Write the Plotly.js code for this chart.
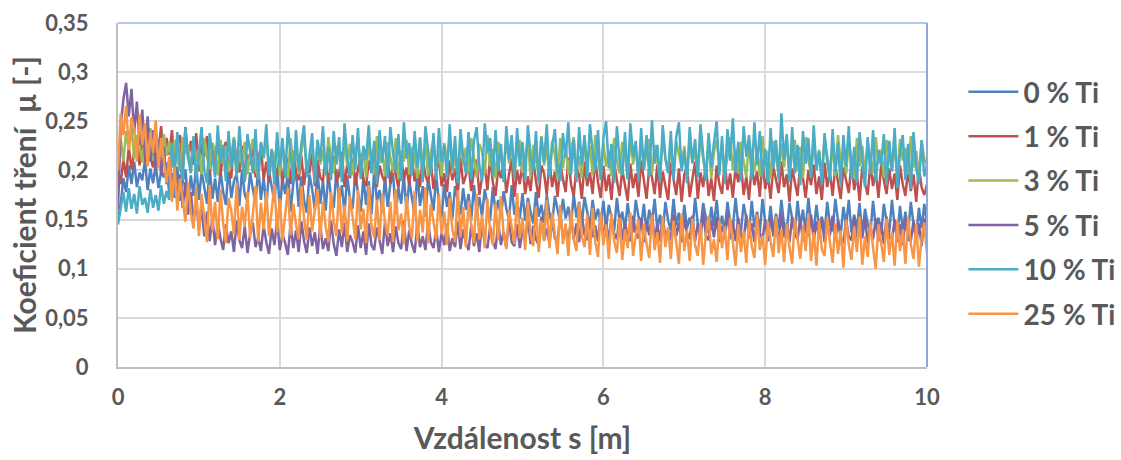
<!DOCTYPE html>
<html>
<head>
<meta charset="utf-8">
<script src="https://cdn.plot.ly/plotly-3.0.1.min.js"></script>
<style>html,body{margin:0;padding:0;background:#fff;}#chart{width:1121px;height:460px;}</style>
</head>
<body>
<div id="chart"></div>
<script>
// distance step between samples [m]
const STEP = 1 / 30;
const seriesNames = ["0 % Ti", "1 % Ti", "3 % Ti", "5 % Ti", "10 % Ti", "25 % Ti"];
const seriesColors = ["#4F81BD", "#C0504D", "#9BBB59", "#8064A2", "#4BACC6", "#F79646"];

const ti0 = [0.150,0.166,0.192,0.178,0.205,0.186,0.209,0.183,0.198,0.190,
0.211,0.180,0.202,0.187,0.206,0.182,0.199,0.193,0.208,0.176,
0.197,0.172,0.204,0.169,0.188,0.201,0.167,0.195,0.174,0.206,
0.170,0.199,0.183,0.166,0.203,0.171,0.192,0.168,0.200,0.178,
0.165,0.204,0.172,0.189,0.197,0.164,0.201,0.175,0.169,0.198,
0.181,0.166,0.205,0.170,0.193,0.163,0.199,0.185,0.168,0.202,
0.161,0.191,0.176,0.198,0.158,0.187,0.200,0.163,0.194,0.170,
0.157,0.196,0.181,0.160,0.199,0.166,0.190,0.159,0.197,0.173,
0.162,0.201,0.168,0.185,0.156,0.195,0.171,0.161,0.198,0.177,
0.158,0.193,0.165,0.189,0.155,0.200,0.169,0.180,0.157,0.194,
0.163,0.186,0.197,0.156,0.182,0.166,0.195,0.158,0.190,0.172,
0.155,0.198,0.164,0.184,0.153,0.192,0.175,0.159,0.196,0.167,
0.152,0.186,0.163,0.178,0.151,0.184,0.170,0.155,0.182,0.160,
0.176,0.150,0.185,0.158,0.173,0.153,0.181,0.166,0.149,0.183,
0.157,0.170,0.152,0.179,0.161,0.150,0.185,0.155,0.168,0.151,
0.177,0.149,0.172,0.158,0.146,0.178,0.153,0.165,0.147,0.175,
0.156,0.145,0.174,0.160,0.148,0.171,0.151,0.163,0.144,0.176,
0.152,0.168,0.146,0.173,0.157,0.143,0.170,0.150,0.161,0.145,
0.169,0.141,0.165,0.152,0.139,0.172,0.148,0.158,0.140,0.167,
0.146,0.137,0.170,0.153,0.142,0.166,0.138,0.160,0.147,0.171,
0.140,0.155,0.136,0.168,0.149,0.139,0.171,0.144,0.157,0.137,
0.165,0.141,0.152,0.138,0.172,0.146,0.140,0.167,0.150,0.136,
0.163,0.143,0.170,0.139,0.154,0.137,0.168,0.148,0.141,0.172,
0.145,0.138,0.166,0.151,0.136,0.169,0.142,0.158,0.137,0.171,
0.147,0.139,0.164,0.136,0.156,0.141,0.170,0.144,0.138,0.167,
0.150,0.135,0.169,0.143,0.160,0.137,0.172,0.146,0.139,0.165,
0.141,0.153,0.136,0.168,0.145,0.138,0.171,0.149,0.135,0.163,
0.144,0.170,0.137,0.155,0.140,0.167,0.134,0.161,0.146,0.136,
0.169,0.142,0.152,0.135,0.166,0.148,0.137,0.170,0.143,0.134,
0.164,0.139,0.158,0.136,0.168,0.145,0.133,0.162,0.141,0.166,
0.145];

const ti1 = [0.200,0.186,0.212,0.193,0.224,0.201,0.219,0.228,0.205,0.237,
0.209,0.242,0.214,0.203,0.239,0.221,0.245,0.207,0.233,0.216,
0.241,0.204,0.226,0.236,0.202,0.244,0.213,0.230,0.206,0.238,
0.199,0.227,0.214,0.235,0.196,0.222,0.208,0.233,0.194,0.219,
0.229,0.201,0.192,0.231,0.211,0.198,0.225,0.190,0.216,0.206,
0.228,0.193,0.212,0.224,0.191,0.209,0.188,0.221,0.203,0.195,
0.217,0.187,0.206,0.213,0.186,0.220,0.199,0.190,0.215,0.185,
0.208,0.197,0.218,0.184,0.211,0.193,0.189,0.216,0.186,0.204,
0.214,0.188,0.196,0.219,0.183,0.207,0.192,0.212,0.185,0.201,
0.217,0.190,0.184,0.210,0.198,0.215,0.183,0.205,0.194,0.188,
0.213,0.186,0.208,0.196,0.182,0.216,0.191,0.203,0.185,0.211,
0.189,0.206,0.183,0.214,0.195,0.187,0.209,0.181,0.200,0.212,
0.184,0.197,0.178,0.210,0.190,0.202,0.176,0.213,0.186,0.195,
0.207,0.179,0.199,0.211,0.175,0.193,0.205,0.180,0.214,0.188,
0.174,0.203,0.192,0.209,0.177,0.196,0.212,0.173,0.200,0.186,
0.208,0.176,0.194,0.179,0.211,0.189,0.172,0.205,0.197,0.175,
0.210,0.183,0.199,0.173,0.207,0.191,0.178,0.213,0.186,0.174,
0.203,0.195,0.171,0.209,0.184,0.198,0.176,0.212,0.188,0.172,
0.205,0.179,0.196,0.170,0.208,0.190,0.174,0.201,0.185,0.169,
0.207,0.182,0.197,0.173,0.210,0.188,0.171,0.203,0.193,0.176,
0.206,0.172,0.199,0.184,0.170,0.208,0.191,0.175,0.202,0.168,
0.196,0.204,0.173,0.189,0.209,0.171,0.198,0.183,0.207,0.174,
0.192,0.169,0.205,0.186,0.176,0.210,0.180,0.197,0.172,0.203,
0.188,0.208,0.175,0.194,0.170,0.206,0.185,0.199,0.173,0.211,
0.181,0.195,0.171,0.204,0.189,0.177,0.209,0.183,0.196,0.168,
0.202,0.186,0.174,0.207,0.192,0.172,0.200,0.185,0.206,0.176,
0.194,0.170,0.208,0.183,0.198,0.174,0.205,0.188,0.171,0.203,
0.191,0.177,0.209,0.180,0.196,0.169,0.204,0.187,0.175,0.207,
0.184,0.199,0.172,0.206,0.190,0.176,0.202,0.181,0.197,0.170,
0.205,0.186,0.174,0.201,0.179,0.196,0.168,0.203,0.183,0.175,
0.186];

const ti3 = [0.215,0.232,0.209,0.240,0.221,0.244,0.212,0.236,0.226,0.208,
0.239,0.218,0.243,0.210,0.233,0.224,0.206,0.237,0.215,0.229,
0.203,0.231,0.212,0.199,0.234,0.217,0.226,0.197,0.230,0.209,
0.222,0.196,0.233,0.214,0.201,0.228,0.219,0.195,0.231,0.207,
0.225,0.198,0.216,0.234,0.194,0.221,0.205,0.229,0.196,0.218,
0.232,0.201,0.193,0.227,0.212,0.235,0.197,0.220,0.208,0.230,
0.195,0.224,0.213,0.192,0.233,0.203,0.226,0.196,0.219,0.236,
0.199,0.214,0.228,0.193,0.231,0.206,0.221,0.194,0.234,0.210,
0.197,0.225,0.216,0.192,0.232,0.204,0.227,0.195,0.218,0.233,
0.200,0.223,0.193,0.230,0.211,0.196,0.235,0.207,0.222,0.194,
0.229,0.214,0.198,0.233,0.191,0.220,0.209,0.231,0.196,0.224,
0.213,0.192,0.234,0.203,0.226,0.195,0.218,0.232,0.199,0.221,
0.194,0.228,0.210,0.235,0.197,0.216,0.191,0.230,0.206,0.223,
0.198,0.233,0.212,0.193,0.227,0.219,0.196,0.236,0.204,0.222,
0.192,0.229,0.214,0.199,0.234,0.207,0.225,0.195,0.220,0.231,
0.197,0.213,0.232,0.193,0.226,0.210,0.198,0.235,0.205,0.224,
0.194,0.230,0.216,0.191,0.233,0.202,0.227,0.196,0.221,0.234,
0.199,0.215,0.192,0.231,0.208,0.225,0.195,0.236,0.211,0.193,
0.228,0.204,0.220,0.194,0.233,0.210,0.197,0.229,0.215,0.191,
0.235,0.206,0.223,0.195,0.231,0.201,0.218,0.232,0.196,0.226,
0.209,0.193,0.234,0.212,0.198,0.227,0.191,0.230,0.216,0.203,
0.225,0.194,0.233,0.207,0.221,0.196,0.236,0.211,0.199,0.228,
0.192,0.219,0.231,0.205,0.226,0.195,0.214,0.234,0.200,0.222,
0.197,0.229,0.209,0.193,0.232,0.217,0.198,0.224,0.194,0.235,
0.206,0.220,0.191,0.230,0.213,0.196,0.227,0.203,0.233,0.195,
0.218,0.231,0.199,0.224,0.192,0.234,0.210,0.197,0.228,0.205,
0.221,0.193,0.232,0.215,0.198,0.226,0.194,0.236,0.208,0.219,
0.196,0.230,0.211,0.192,0.233,0.204,0.225,0.195,0.229,0.213,
0.197,0.234,0.207,0.221,0.193,0.231,0.216,0.199,0.227,0.194,
0.232,0.210,0.223,0.196,0.235,0.203,0.220,0.192,0.230,0.212,
0.205];

const ti5 = [0.160,0.245,0.272,0.289,0.255,0.283,0.238,0.270,0.226,0.262,
0.214,0.255,0.209,0.241,0.201,0.232,0.195,0.224,0.186,0.212,
0.178,0.205,0.170,0.196,0.162,0.188,0.155,0.178,0.148,0.169,
0.140,0.163,0.133,0.158,0.128,0.152,0.124,0.147,0.131,0.119,
0.145,0.126,0.138,0.117,0.149,0.129,0.121,0.143,0.116,0.136,
0.147,0.122,0.132,0.118,0.144,0.127,0.115,0.141,0.124,0.150,
0.119,0.135,0.126,0.114,0.146,0.121,0.139,0.117,0.148,0.128,
0.116,0.142,0.123,0.137,0.115,0.145,0.120,0.131,0.118,0.149,
0.125,0.113,0.140,0.122,0.147,0.117,0.134,0.127,0.116,0.144,
0.121,0.138,0.114,0.146,0.124,0.119,0.142,0.128,0.115,0.148,
0.123,0.136,0.117,0.143,0.126,0.120,0.149,0.118,0.139,0.125,
0.116,0.145,0.122,0.133,0.119,0.147,0.127,0.121,0.141,0.117,
0.137,0.124,0.146,0.118,0.131,0.122,0.148,0.120,0.140,0.126,
0.119,0.144,0.123,0.136,0.117,0.149,0.125,0.121,0.143,0.128,
0.120,0.147,0.124,0.138,0.122,0.150,0.127,0.123,0.145,0.121,
0.139,0.128,0.152,0.125,0.144,0.130,0.124,0.153,0.129,0.141,
0.126,0.150,0.131,0.127,0.155,0.133,0.142,0.128,0.151,0.130,
0.146,0.127,0.154,0.135,0.129,0.152,0.132,0.144,0.128,0.156,
0.131,0.149,0.127,0.153,0.136,0.130,0.155,0.129,0.147,0.133,
0.128,0.154,0.137,0.131,0.152,0.127,0.148,0.134,0.156,0.130,
0.145,0.128,0.153,0.132,0.139,0.129,0.155,0.133,0.147,0.127,
0.151,0.136,0.130,0.154,0.128,0.146,0.131,0.157,0.134,0.129,
0.149,0.132,0.153,0.127,0.143,0.135,0.156,0.130,0.148,0.128,
0.152,0.134,0.129,0.155,0.131,0.146,0.127,0.153,0.136,0.130,
0.150,0.128,0.154,0.133,0.141,0.129,0.156,0.132,0.147,0.127,
0.153,0.135,0.130,0.151,0.128,0.145,0.133,0.155,0.129,0.148,
0.131,0.152,0.127,0.144,0.134,0.154,0.128,0.149,0.132,0.126,
0.150,0.133,0.129,0.153,0.127,0.146,0.131,0.152,0.126,0.143,
0.130,0.151,0.128,0.147,0.125,0.153,0.132,0.129,0.150,0.127,
0.145,0.124,0.152,0.130,0.128,0.149,0.126,0.146,0.123,0.151,
0.140];

const ti10 = [0.145,0.163,0.178,0.158,0.182,0.161,0.176,0.156,0.184,0.165,
0.172,0.157,0.181,0.162,0.175,0.159,0.185,0.166,0.179,0.170,
0.228,0.196,0.239,0.205,0.190,0.243,0.212,0.198,0.235,0.191,
0.221,0.244,0.200,0.187,0.238,0.215,0.193,0.246,0.207,0.226,
0.189,0.240,0.203,0.232,0.194,0.245,0.210,0.188,0.237,0.219,
0.197,0.242,0.190,0.229,0.213,0.247,0.195,0.222,0.186,0.239,
0.204,0.233,0.192,0.244,0.216,0.189,0.241,0.200,0.227,0.246,
0.193,0.218,0.238,0.187,0.231,0.209,0.245,0.196,0.224,0.190,
0.240,0.206,0.234,0.188,0.248,0.214,0.194,0.236,0.201,0.243,
0.191,0.225,0.211,0.246,0.197,0.230,0.186,0.241,0.208,0.235,
0.192,0.244,0.217,0.199,0.237,0.189,0.249,0.212,0.228,0.195,
0.240,0.203,0.233,0.188,0.245,0.220,0.196,0.238,0.190,0.243,
0.209,0.226,0.193,0.247,0.201,0.235,0.187,0.242,0.214,0.197,
0.239,0.191,0.230,0.244,0.205,0.189,0.248,0.218,0.233,0.194,
0.241,0.199,0.227,0.188,0.245,0.211,0.236,0.192,0.243,0.204,
0.229,0.190,0.246,0.215,0.198,0.240,0.187,0.234,0.208,0.247,
0.193,0.225,0.242,0.200,0.189,0.238,0.213,0.249,0.196,0.231,
0.188,0.244,0.206,0.236,0.192,0.247,0.219,0.199,0.241,0.190,
0.233,0.250,0.202,0.227,0.187,0.245,0.210,0.195,0.239,0.191,
0.248,0.214,0.230,0.189,0.243,0.201,0.236,0.194,0.251,0.207,
0.226,0.188,0.246,0.212,0.197,0.240,0.190,0.234,0.249,0.199,
0.221,0.187,0.244,0.208,0.232,0.193,0.247,0.216,0.189,0.238,
0.203,0.228,0.250,0.195,0.235,0.186,0.242,0.210,0.253,0.198,
0.229,0.189,0.245,0.214,0.236,0.191,0.249,0.205,0.240,0.193,
0.222,0.187,0.243,0.202,0.231,0.190,0.258,0.211,0.237,0.188,
0.244,0.197,0.226,0.185,0.240,0.207,0.233,0.192,0.246,0.200,
0.219,0.186,0.238,0.209,0.189,0.242,0.198,0.228,0.184,0.236,
0.204,0.245,0.191,0.224,0.187,0.239,0.212,0.183,0.234,0.196,
0.241,0.188,0.221,0.205,0.237,0.185,0.230,0.199,0.243,0.182,
0.218,0.236,0.190,0.227,0.181,0.239,0.203,0.186,0.231,0.194,
0.205];

const ti25 = [0.200,0.258,0.236,0.266,0.221,0.254,0.242,0.209,0.257,0.226,
0.248,0.204,0.239,0.218,0.251,0.202,0.233,0.211,0.187,0.214,
0.168,0.203,0.159,0.192,0.172,0.148,0.188,0.157,0.141,0.183,
0.133,0.176,0.152,0.127,0.185,0.139,0.168,0.130,0.181,0.146,
0.126,0.172,0.159,0.135,0.187,0.129,0.163,0.143,0.178,0.131,
0.155,0.184,0.127,0.167,0.140,0.179,0.133,0.160,0.186,0.137,
0.171,0.128,0.158,0.182,0.134,0.166,0.145,0.130,0.184,0.151,
0.129,0.175,0.138,0.162,0.181,0.131,0.169,0.143,0.127,0.178,
0.149,0.133,0.183,0.136,0.165,0.128,0.174,0.153,0.130,0.180,
0.140,0.161,0.126,0.185,0.144,0.132,0.170,0.129,0.177,0.147,
0.134,0.168,0.127,0.181,0.139,0.156,0.125,0.174,0.143,0.131,
0.179,0.128,0.160,0.137,0.183,0.126,0.166,0.148,0.130,0.176,
0.135,0.158,0.124,0.172,0.140,0.127,0.180,0.132,0.163,0.122,
0.169,0.145,0.126,0.176,0.130,0.155,0.121,0.171,0.138,0.124,
0.166,0.129,0.174,0.135,0.120,0.160,0.142,0.125,0.177,0.131,
0.152,0.119,0.168,0.134,0.123,0.163,0.117,0.149,0.128,0.170,
0.121,0.157,0.136,0.115,0.165,0.125,0.146,0.113,0.160,0.130,
0.118,0.167,0.133,0.122,0.155,0.114,0.162,0.127,0.112,0.158,
0.124,0.145,0.110,0.156,0.128,0.116,0.152,0.109,0.140,0.121,
0.157,0.113,0.133,0.150,0.108,0.146,0.125,0.111,0.155,0.119,
0.137,0.106,0.153,0.122,0.142,0.110,0.149,0.127,0.105,0.156,
0.118,0.139,0.108,0.151,0.124,0.113,0.147,0.104,0.135,0.154,
0.115,0.130,0.107,0.149,0.121,0.143,0.109,0.152,0.126,0.103,
0.145,0.117,0.138,0.106,0.150,0.123,0.111,0.155,0.119,0.134,
0.104,0.148,0.128,0.112,0.153,0.116,0.140,0.107,0.146,0.122,
0.105,0.151,0.131,0.110,0.144,0.118,0.156,0.108,0.137,0.103,
0.149,0.120,0.113,0.152,0.127,0.106,0.146,0.115,0.139,0.101,
0.150,0.124,0.109,0.143,0.117,0.153,0.104,0.133,0.112,0.148,
0.121,0.100,0.145,0.128,0.107,0.151,0.114,0.137,0.103,0.149,
0.118,0.140,0.105,0.152,0.125,0.110,0.146,0.102,0.131,0.147,
0.115];

const yTickVals = [0, 0.05, 0.1, 0.15, 0.2, 0.25, 0.3, 0.35];
const yTickText = ["0", "0,05", "0,1", "0,15", "0,2", "0,25", "0,3", "0,35"];
const xTickVals = [0, 2, 4, 6, 8, 10];

const allSeries = [ti0, ti1, ti3, ti5, ti10, ti25];
const FONT = "Lato, 'Open Sans', sans-serif";
const GREY = "#595959";

const traces = allSeries.map((ys, k) => ({
  type: "scatter",
  mode: "lines",
  name: seriesNames[k],
  legendgroup: "g" + k,
  x0: 0,
  dx: STEP,
  y: ys,
  line: {color: seriesColors[k], width: 2.5},
  hoverinfo: "skip"
}));

const layout = {
  width: 1121,
  height: 460,
  margin: {l: 118, r: 194, t: 23, b: 93, pad: 0, autoexpand: false},
  paper_bgcolor: "#ffffff",
  plot_bgcolor: "#ffffff",
  separators: ", ",
  showlegend: true,
  font: {family: FONT, color: GREY},
  xaxis: {
    range: [0, 10],
    tickvals: xTickVals,
    ticktext: xTickVals.map(String),
    showgrid: true,
    gridcolor: "#d9d9d9",
    gridwidth: 2,
    zeroline: false,
    showline: true,
    linecolor: "#bfbfbf",
    linewidth: 2,
    ticks: "",
    ticklabelstandoff: 10,
    tickfont: {family: FONT, size: 22, color: GREY, weight: "bold"},
    title: {text: "<b>Vzdálenost s [m]</b>", font: {family: FONT, size: 30, color: GREY}, standoff: 19}
  },
  yaxis: {
    range: [0, 0.35],
    tickvals: yTickVals,
    ticktext: yTickText,
    showgrid: true,
    gridcolor: "#d9d9d9",
    gridwidth: 2,
    zeroline: false,
    showline: true,
    linecolor: "#bfbfbf",
    linewidth: 2,
    ticks: "",
    ticklabelstandoff: 23,
    tickfont: {family: FONT, size: 22, color: GREY, weight: "bold"},
    title: {text: "<b>Koeficient tření&nbsp;&nbsp;µ [-]</b>", font: {family: FONT, size: 30, color: GREY}, standoff: 0}
  },
  legend: {
    x: 1.045,
    y: 0.872,
    xanchor: "left",
    yanchor: "top",
    font: {family: FONT, size: 28, color: GREY, weight: "bold"},
    tracegroupgap: 5,
    itemwidth: 50,
    bgcolor: "rgba(0,0,0,0)"
  },
  shapes: [
    {type: "line", xref: "paper", yref: "paper", x0: 0, x1: 1, y0: 1, y1: 1, line: {color: "#9DB5DD", width: 1.5}},
    {type: "line", xref: "paper", yref: "paper", x0: 1, x1: 1, y0: 0, y1: 1, line: {color: "#8EA9D8", width: 2}}
  ]
};

Plotly.newPlot("chart", traces, layout, {displayModeBar: false, staticPlot: true});
</script>
</body>
</html>
